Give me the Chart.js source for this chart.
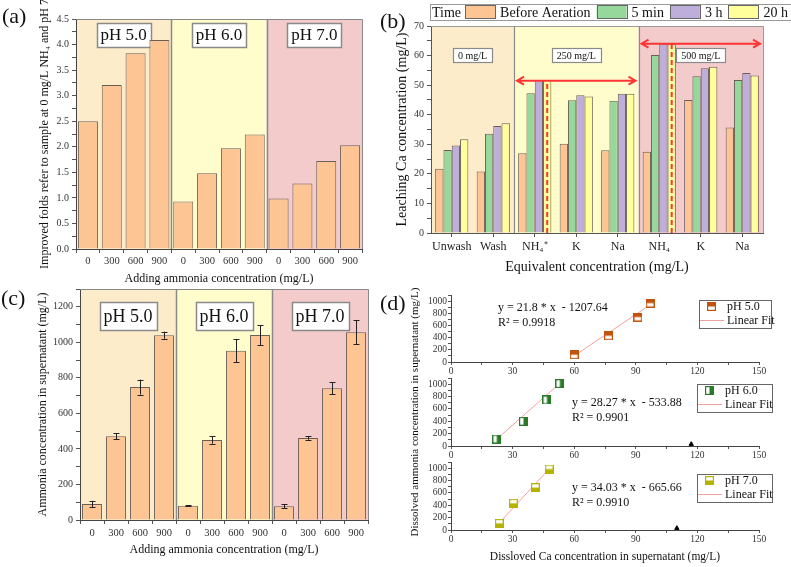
<!DOCTYPE html>
<html>
<head>
<meta charset="utf-8">
<script src="https://cdn.jsdelivr.net/npm/chart.js@4.4.0/dist/chart.umd.min.js"></script>
<style>
  body { margin: 0; background: #fff; width: 791px; height: 567px; overflow: hidden; position: relative; }
  canvas { position: absolute; }
  .tag { position: absolute; font: 22px/22px "Liberation Serif", serif; color: #111; }
</style>
</head>
<body>
<canvas id="chartA" width="370" height="290" style="left:0;top:0"></canvas>
<canvas id="chartB" width="421" height="290" style="left:370px;top:0"></canvas>
<canvas id="chartC" width="370" height="287" style="left:0;top:280px"></canvas>
<canvas id="chartD2" width="421" height="287" style="left:370px;top:280px"></canvas>
<canvas id="chartD1" width="421" height="92" style="left:370px;top:288px"></canvas>
<canvas id="chartD3" width="421" height="112" style="left:370px;top:455px"></canvas>
<div class="tag" style="left:2px;top:5px">(a)</div>
<div class="tag" style="left:380px;top:10px">(b)</div>
<div class="tag" style="left:1px;top:287px">(c)</div>
<div class="tag" style="left:380px;top:292px">(d)</div>
<script>
// ===========================
// Data
// ===========================
const phGroups = ['pH 5.0', 'pH 6.0', 'pH 7.0'];
const doseLabels = ['0', '300', '600', '900', '0', '300', '600', '900', '0', '300', '600', '900'];

// (a) improved folds
const foldValues = [2.50, 3.21, 3.83, 4.09, 0.93, 1.48, 1.97, 2.24, 0.99, 1.28, 1.72, 2.03];

// (b) leaching Ca
const leachCats = ['Unwash', 'Wash', 'NH₄⁺', 'K', 'Na', 'NH₄', 'K', 'Na'];
const leachSeries = ['Before Aeration', '5 min', '3 h', '20 h'];
const beforeAeration = [21.7, 20.8, 27.0, 30.2, 28.0, 27.5, 45.0, 35.7];
const after5min = [28.1, 33.6, 47.3, 44.9, 44.7, 60.2, 53.0, 51.7];
const after3h = [29.6, 36.2, 51.7, 46.6, 47.1, 63.8, 55.7, 54.1];
const after20h = [31.7, 37.1, 51.7, 46.2, 47.1, 63.8, 56.2, 53.3];
const leachBands = ['0 mg/L', '250 mg/L', '500 mg/L'];
const arrowLevels = [51.5, 64.0];

// (c) ammonia in supernatant
const ammoniaMean = [90, 472, 748, 1040, 80, 450, 952, 1041, 77, 462, 742, 1057];
const ammoniaErr = [18, 17, 42, 20, 2, 20, 65, 56, 11, 10, 33, 66];

// (d) ammonia vs Ca
const ph5Ca = [60.0, 76.7, 91.0, 97.0];
const ph5NH = [120, 431, 738, 967];
const ph6Ca = [22.3, 35.3, 46.7, 53.0];
const ph6NH = [113, 400, 745, 1010];
const ph7Ca = [23.5, 30.4, 41.1, 47.8];
const ph7NH = [108, 432, 686, 986];
const fit5X = [59.5, 97.5], fit5Y = [90, 950];
const fit6X = [21.8, 53.5], fit6Y = [95, 1030];
const fit7X = [23.8, 48.0], fit7Y = [125, 995];
const strayX = [117, 110], strayY = [30, 30];
const fitEquations = ['y = 21.8 * x  - 1207.64', 'y = 28.27 * x  - 533.88', 'y = 34.03 * x  - 665.66'];
const fitR2 = ['0.9918', '0.9901', '0.9910'];

// ===========================
// Styles / helpers
// ===========================
const serif = '"Liberation Serif", "Times New Roman", serif';
Chart.defaults.font.family = serif;
Chart.defaults.color = '#333';
Chart.defaults.animation = false;
Chart.defaults.plugins.legend.display = false;
Chart.defaults.plugins.tooltip.enabled = false;

const bandColors = ['#fdecca', '#fffdcc', '#f3cbcb'];
const barOrange = '#fdc594';
const barEdge = '#6a5e56';
const seriesColors = ['#fdc594', '#96d79b', '#bdaedc', '#ffff9c'];

function bandEdges(chart, first, last) {
  const x = chart.scales.x, a = chart.chartArea;
  return [Math.max(a.left, x.getPixelForValue(first - 0.5)), Math.min(a.right, x.getPixelForValue(last + 0.5))];
}

function boxLabel(ctx, text, cx, top, size, h, padX, lw) {
  ctx.font = size + 'px ' + serif;
  const w = Math.round(ctx.measureText(text).width + padX * 2);
  const l = Math.round(cx - w / 2);
  ctx.fillStyle = '#fff';
  ctx.fillRect(l, top, w, h);
  ctx.strokeStyle = '#8a8a8a';
  ctx.lineWidth = lw;
  ctx.strokeRect(l + 0.5, top + 0.5, w, h);
  ctx.fillStyle = '#111';
  ctx.textAlign = 'center';
  ctx.textBaseline = 'middle';
  ctx.fillText(text, cx, top + h / 2 + 1);
}

// background regions with a boxed label in each
const bandPlugin = {
  id: 'bands',
  beforeDraw(chart, args, o) {
    const { ctx, chartArea: a } = chart;
    ctx.save();
    o.ranges.forEach((r, i) => {
      const [l, rr] = bandEdges(chart, r[0], r[1]);
      ctx.fillStyle = bandColors[i];
      ctx.fillRect(l, a.top, rr - l, a.bottom - a.top);
    });
    ctx.restore();
  },
  beforeDatasetsDraw(chart, args, o) {
    const { ctx, chartArea: a } = chart;
    ctx.save();
    ctx.lineWidth = 1;
    ctx.strokeStyle = o.frame;
    ctx.beginPath();
    ctx.moveTo(a.left, a.top + 0.5); ctx.lineTo(a.right + 0.5, a.top + 0.5); ctx.lineTo(a.right + 0.5, a.bottom);
    ctx.stroke();
    ctx.strokeStyle = o.sep;
    o.ranges.forEach((r, i) => {
      const [l, rr] = bandEdges(chart, r[0], r[1]);
      if (i > 0) {
        ctx.beginPath();
        ctx.moveTo(Math.round(l) + 0.5, a.top); ctx.lineTo(Math.round(l) + 0.5, a.bottom);
        ctx.stroke();
      }
      boxLabel(ctx, o.labels[i], (l + rr) / 2, a.top + o.labelTop, o.size, o.h, o.padX, o.lw);
    });
    ctx.restore();
  }
};

const yTitleFont = { size: 12 };

// ===========================
// (a) Improved folds
// ===========================
new Chart(document.getElementById('chartA'), {
  type: 'bar',
  data: {
    labels: doseLabels,
    datasets: [{ data: foldValues, backgroundColor: barOrange, borderColor: barEdge, borderWidth: 1, barPercentage: 0.84, categoryPercentage: 1 }]
  },
  options: {
    responsive: false,
    layout: { padding: { top: 19, right: 8, left: 0, bottom: 0 } },
    scales: {
      x: {
        afterFit: s => { s.height = 41; },
        grid: { drawOnChartArea: false, tickLength: 4, color: '#555' },
        border: { color: '#444' },
        ticks: { font: { size: 10.5 }, padding: 2, maxRotation: 0, autoSkip: false },
        title: { display: true, text: 'Adding ammonia concentration (mg/L)', font: { size: 12 }, color: '#111', padding: { top: 0, bottom: 4 } }
      },
      y: {
        min: 0, max: 4.5,
        afterFit: s => { s.width = 76; },
        grid: { drawOnChartArea: false, tickLength: 4, color: '#555' },
        border: { color: '#444' },
        ticks: { stepSize: 0.25, autoSkip: false, font: { size: 10 }, padding: 3, callback: v => (v * 2) % 1 === 0 ? v.toFixed(1) : '' },
        title: { display: true, text: 'Improved folds refer to sample at 0 mg/L NH₄ and pH 7', font: yTitleFont, color: '#111', padding: { top: 38, bottom: 0 } }
      }
    },
    plugins: {
      bands: { ranges: [[0, 3], [4, 7], [8, 11]], labels: phGroups, labelTop: 4, size: 17, h: 24, padX: 4, lw: 1.5, sep: '#444', frame: '#888' }
    }
  },
  plugins: [bandPlugin]
});

// ===========================
// (b) Leaching Ca
// ===========================
const timeLegend = {
  id: 'timeLegend',
  afterDraw(chart) {
    const ctx = chart.ctx;
    ctx.save();
    ctx.font = '14px ' + serif;
    ctx.textBaseline = 'middle';
    ctx.textAlign = 'left';
    const top = 4, h = 16, mid = top + h / 2 + 1;
    ctx.fillStyle = '#fff';
    ctx.fillRect(60, top, 361, h);
    ctx.strokeStyle = '#999';
    ctx.lineWidth = 1;
    ctx.strokeRect(60.5, top + 0.5, 361, h);
    let x = 62;
    ctx.fillStyle = '#111';
    ctx.fillText('Time', x, mid);
    x += ctx.measureText('Time').width + 4;
    chart.data.datasets.forEach(ds => {
      ctx.fillStyle = ds.backgroundColor;
      ctx.fillRect(x, top + 1.5, 30, 13);
      ctx.strokeStyle = '#666';
      ctx.strokeRect(Math.round(x) + 0.5, top + 1.5, 30, 13);
      x += 35;
      ctx.fillStyle = '#111';
      ctx.fillText(ds.label, x, mid);
      x += ctx.measureText(ds.label).width + 6;
    });
    ctx.restore();
  }
};

const arrowPlugin = {
  id: 'arrows',
  afterDatasetsDraw(chart, args, o) {
    const { ctx, scales: { y } } = chart;
    ctx.save();
    ctx.strokeStyle = '#ff3434';
    ctx.lineWidth = 2;
    o.spans.forEach((sp, i) => {
      const [l, r] = bandEdges(chart, sp[0], sp[1]);
      const yy = y.getPixelForValue(arrowLevels[i]);
      const x0 = l + 3, x1 = r - 3;
      ctx.setLineDash([]);
      ctx.beginPath();
      ctx.moveTo(x0, yy); ctx.lineTo(x1, yy);
      ctx.moveTo(x0 + 7, yy - 4); ctx.lineTo(x0, yy); ctx.lineTo(x0 + 7, yy + 4);
      ctx.moveTo(x1 - 7, yy - 4); ctx.lineTo(x1, yy); ctx.lineTo(x1 - 7, yy + 4);
      ctx.stroke();
      // dashed marker through the 20 h bar of the NH4 group
      const bar = chart.getDatasetMeta(3).data[sp[0]];
      ctx.setLineDash([5, 3]);
      ctx.beginPath();
      ctx.moveTo(bar.x, y.getPixelForValue(0));
      ctx.lineTo(bar.x, yy);
      ctx.stroke();
    });
    ctx.restore();
  }
};

const leachData = [beforeAeration, after5min, after3h, after20h];
new Chart(document.getElementById('chartB'), {
  type: 'bar',
  data: {
    labels: leachCats,
    datasets: leachSeries.map((name, i) => ({
      label: name, data: leachData[i], backgroundColor: seriesColors[i], borderColor: barEdge, borderWidth: 1,
      categoryPercentage: 0.8, barPercentage: 1
    }))
  },
  options: {
    responsive: false,
    layout: { padding: { top: 26, right: 28, left: 0, bottom: 0 } },
    scales: {
      x: {
        afterFit: s => { s.height = 57; },
        grid: { drawOnChartArea: false, offset: false, tickLength: 4, color: '#555' },
        border: { color: '#555' },
        ticks: { font: { size: 12 }, padding: 3, maxRotation: 0, autoSkip: false, color: '#222' },
        title: { display: true, text: 'Equivalent concentration (mg/L)', font: { size: 14 }, color: '#111', padding: { top: 0, bottom: 14 } }
      },
      y: {
        min: 0, max: 70,
        afterFit: s => { s.width = 61; },
        grid: { drawOnChartArea: false, tickLength: 4, color: '#555' },
        border: { color: '#555' },
        ticks: { stepSize: 5, autoSkip: false, font: { size: 10 }, padding: 3, callback: v => v % 10 === 0 ? v : '' },
        title: { display: true, text: 'Leaching Ca concentration (mg/L)', font: { size: 14 }, color: '#111', padding: { top: 24, bottom: 0 } }
      }
    },
    plugins: {
      bands: { ranges: [[0, 1], [2, 4], [5, 7]], labels: leachBands, labelTop: 22, size: 10, h: 14, padX: 5, lw: 1.2, sep: '#999', frame: '#999' },
      arrows: { spans: [[2, 4], [5, 7]] }
    }
  },
  plugins: [bandPlugin, arrowPlugin, timeLegend]
});

// ===========================
// (c) Ammonia in supernatant
// ===========================
const errorBars = {
  id: 'errorBars',
  afterDatasetsDraw(chart) {
    const { ctx, scales: { y } } = chart;
    ctx.save();
    ctx.strokeStyle = '#222';
    ctx.lineWidth = 1;
    chart.getDatasetMeta(0).data.forEach((bar, i) => {
      const hi = y.getPixelForValue(ammoniaMean[i] + ammoniaErr[i]);
      const lo = y.getPixelForValue(ammoniaMean[i] - ammoniaErr[i]);
      const x = Math.round(bar.x) + 0.5;
      ctx.beginPath();
      ctx.moveTo(x, hi); ctx.lineTo(x, lo);
      ctx.moveTo(x - 3, Math.round(hi) + 0.5); ctx.lineTo(x + 3, Math.round(hi) + 0.5);
      ctx.moveTo(x - 3, Math.round(lo) + 0.5); ctx.lineTo(x + 3, Math.round(lo) + 0.5);
      ctx.stroke();
    });
    ctx.restore();
  }
};

new Chart(document.getElementById('chartC'), {
  type: 'bar',
  data: {
    labels: doseLabels,
    datasets: [{ data: ammoniaMean, backgroundColor: barOrange, borderColor: barEdge, borderWidth: 1, barPercentage: 0.83, categoryPercentage: 1 }]
  },
  options: {
    responsive: false,
    layout: { padding: { top: 7, right: 2, left: 0, bottom: 0 } },
    scales: {
      x: {
        afterFit: s => { s.height = 47; },
        grid: { drawOnChartArea: false, tickLength: 4, color: '#555' },
        border: { color: '#444' },
        ticks: { font: { size: 10.5 }, padding: 3, maxRotation: 0, autoSkip: false },
        title: { display: true, text: 'Adding ammonia concentration (mg/L)', font: { size: 12 }, color: '#111', padding: { top: 0, bottom: 10 } }
      },
      y: {
        min: 0, max: 1300,
        afterFit: s => { s.width = 80; },
        grid: { drawOnChartArea: false, tickLength: 4, color: '#555' },
        border: { color: '#444' },
        ticks: { stepSize: 100, autoSkip: false, includeBounds: false, font: { size: 10 }, padding: 3, callback: v => v % 200 === 0 ? v : '' },
        title: { display: true, text: 'Ammonia concentration in supernatant (mg/L)', font: yTitleFont, color: '#111', padding: { top: 36, bottom: 0 } }
      }
    },
    plugins: {
      bands: { ranges: [[0, 3], [4, 7], [8, 11]], labels: phGroups, labelTop: 13, size: 18, h: 28, padX: 4, lw: 1.5, sep: '#444', frame: '#888' }
    }
  },
  plugins: [bandPlugin, errorBars]
});

// ===========================
// (d) Ammonia vs dissolved Ca
// ===========================
function halfSquare(color, half) {
  const c = document.createElement('canvas');
  c.width = 9; c.height = 9;
  const g = c.getContext('2d');
  g.fillStyle = '#fff';
  g.fillRect(0, 0, 9, 9);
  g.fillStyle = color;
  if (half === 'top') g.fillRect(0, 0, 9, 4.5);
  if (half === 'bottom') g.fillRect(0, 4.5, 9, 4.5);
  if (half === 'right') g.fillRect(4.5, 0, 4.5, 9);
  g.strokeStyle = color;
  g.lineWidth = 1.2;
  g.strokeRect(0.6, 0.6, 7.8, 7.8);
  return c;
}

const fitColor = '#f5a0a0';

const fitLegend = {
  id: 'fitLegend',
  afterDraw(chart, args, o) {
    const { ctx, chartArea: a } = chart;
    ctx.save();
    const bx = Math.round(a.right + o.dx), by = Math.round(a.top + o.dy);
    ctx.fillStyle = '#fff';
    ctx.fillRect(bx, by, o.w, 28);
    ctx.strokeStyle = '#666';
    ctx.lineWidth = 1;
    ctx.strokeRect(bx + 0.5, by + 0.5, o.w, 28);
    ctx.drawImage(o.marker, bx + 8, by + 2);
    ctx.strokeStyle = fitColor;
    ctx.beginPath();
    ctx.moveTo(bx + 1, by + 20.5); ctx.lineTo(bx + 25, by + 20.5);
    ctx.stroke();
    ctx.font = '12px ' + serif;
    ctx.fillStyle = '#111';
    ctx.textAlign = 'left';
    ctx.textBaseline = 'middle';
    ctx.fillText(o.name, bx + 28, by + 7);
    ctx.fillText('Linear Fit', bx + 28, by + 21);
    // fit equation
    ctx.fillText(fitEquations[o.idx], a.left + o.ex, a.top + o.ey);
    ctx.fillText('R² = ' + fitR2[o.idx], a.left + o.ex, a.top + o.ey + 15);
    ctx.restore();
  }
};

function panelD(id, cfg) {
  const marker = halfSquare(cfg.color, cfg.half);
  const datasets = [
    { data: cfg.xs.map((x, i) => ({ x, y: cfg.ys[i] })), pointStyle: marker, pointRadius: 5, order: 1 },
    { data: cfg.fx.map((x, i) => ({ x, y: cfg.fy[i] })), showLine: true, borderColor: fitColor, borderWidth: 1, pointRadius: 0, order: 2 }
  ];
  if (cfg.stray != null) {
    datasets.push({ data: [{ x: strayX[cfg.stray], y: strayY[cfg.stray] }], pointStyle: 'triangle', pointRadius: 2.5, backgroundColor: '#000', borderColor: '#000', order: 0 });
  }
  return new Chart(document.getElementById(id), {
    type: 'scatter',
    data: { datasets },
    options: {
      responsive: false,
      layout: { padding: cfg.pad },
      scales: {
        x: {
          min: 0, max: 150,
          afterFit: s => { s.height = cfg.xh; },
          grid: { drawOnChartArea: false, tickLength: 3, color: '#555' },
          border: { color: '#444' },
          ticks: { stepSize: 15, autoSkip: false, font: { size: 9.5 }, padding: 1, maxRotation: 0, callback: v => v % 30 === 0 ? v : '' },
          title: { display: !!cfg.xTitle, text: cfg.xTitle || '', font: { size: 11.5 }, color: '#111', padding: { top: 0, bottom: 3 } }
        },
        y: {
          min: 0, max: 1100,
          afterFit: s => { s.width = 81; },
          grid: { drawOnChartArea: false, tickLength: 3, color: '#555' },
          border: { color: '#444' },
          ticks: { stepSize: 100, autoSkip: false, font: { size: 9.5 }, padding: 1, callback: v => v % 200 === 0 ? v : '' },
          title: { display: !!cfg.yTitle, text: cfg.yTitle || '', font: { size: 11 }, color: '#111', padding: { top: 39, bottom: 0 } }
        }
      },
      plugins: { fitLegend: Object.assign({ marker }, cfg.legend) }
    },
    plugins: [fitLegend]
  });
}

panelD('chartD1', {
  xs: ph5Ca, ys: ph5NH, fx: fit5X, fy: fit5Y, color: '#c1530c', half: 'top',
  pad: { top: 7, right: 32, left: 0, bottom: 2 }, xh: 16,
  legend: { idx: 0, name: 'pH 5.0', dx: -60, dy: 5, w: 72, ex: 47, ey: 13 }
});
panelD('chartD2', {
  xs: ph6Ca, ys: ph6NH, fx: fit6X, fy: fit6Y, color: '#2a7a2a', half: 'right', stray: 0,
  pad: { top: 98, right: 32, left: 0, bottom: 105 }, xh: 16,
  yTitle: 'Dissolved ammonia concentration in supernatant (mg/L)',
  legend: { idx: 1, name: 'pH 6.0', dx: -62, dy: 6, w: 75, ex: 121, ey: 25 }
});
panelD('chartD3', {
  xs: ph7Ca, ys: ph7NH, fx: fit7X, fy: fit7Y, color: '#b3b300', half: 'bottom', stray: 1,
  pad: { top: 7, right: 32, left: 0, bottom: 0 }, xh: 37,
  xTitle: 'Dissloved Ca concentration in supernatant (mg/L)',
  legend: { idx: 2, name: 'pH 7.0', dx: -62, dy: 12, w: 75, ex: 121, ey: 26 }
});
</script>
</body>
</html>
